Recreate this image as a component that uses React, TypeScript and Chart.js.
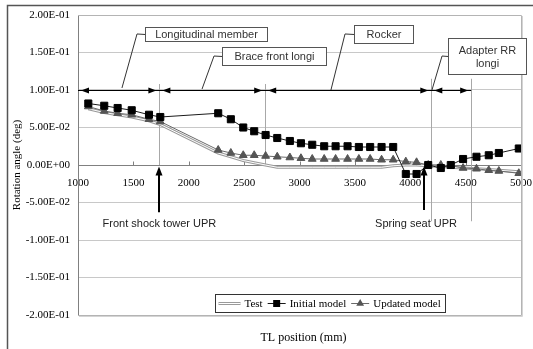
import React, { useEffect, useRef } from 'react';
import { Chart, registerables } from 'chart.js';

Chart.register(...registerables);

// ---------- data ----------
const positions = [1093, 1237, 1358, 1485, 1641, 1743, 2266, 2380, 2492, 2591, 2694, 2799, 2913, 3013, 3115, 3223, 3326, 3434, 3536, 3638, 3741, 3846, 3960, 4057, 4162, 4276, 4366, 4477, 4598, 4709, 4800, 4980];
const testValues = [0.075, 0.070, 0.067, 0.064, 0.059, 0.054, 0.016, 0.011, 0.006, 0.003, 0.000, -0.003, -0.003, -0.003, -0.003, -0.003, -0.003, -0.003, -0.003, -0.003, -0.003, -0.001, 0.000, 0.000, -0.001, -0.002, -0.003, -0.004, -0.005, -0.006, -0.007, -0.009];
const initialValues = [0.082, 0.079, 0.076, 0.073, 0.067, 0.064, 0.069, 0.061, 0.050, 0.045, 0.040, 0.036, 0.032, 0.029, 0.027, 0.025, 0.025, 0.025, 0.024, 0.024, 0.024, 0.024, -0.012, -0.012, 0.000, -0.004, 0.000, 0.008, 0.011, 0.013, 0.016, 0.022];
const updatedValues = [0.078, 0.072, 0.069, 0.067, 0.061, 0.058, 0.020, 0.016, 0.013, 0.013, 0.012, 0.011, 0.010, 0.009, 0.008, 0.008, 0.008, 0.008, 0.008, 0.008, 0.007, 0.007, 0.0045, 0.0036, 0.000, 0.000, -0.001, -0.004, -0.005, -0.007, -0.008, -0.011];
const seriesLabels = ['Test', 'Initial model', 'Updated model'];
const xTicks = [1000, 1500, 2000, 2500, 3000, 3500, 4000, 4500, 5000];
const yTicks = [-0.2, -0.15, -0.1, -0.05, 0, 0.05, 0.1, 0.15, 0.2];
const xTitle = 'TL position (mm)';
const yTitle = 'Rotation angle (deg)';

// region markers (TL position) along the 0.1 line
const regionBounds = [1000, 1735, 2690, 4190, 4550];
const regionLineValue = 0.1;
const regionLineTops = [0.108, 0.108, 0.115, 0.115];
const regionLineBottoms = [0, 0, -0.075, -0.075];

// callouts (in data units)
const callouts = [
  { lines: ['Longitudinal member'], box: [1605, 0.184, 2706, 0.1653], leader: [[1533, 0.1747], [1397, 0.1027]] },
  { lines: ['Brace front longi'], box: [2300, 0.1573, 3239, 0.1333], leader: [[2228, 0.1453], [2120, 0.1013]] },
  { lines: ['Rocker'], box: [3492, 0.1867, 4025, 0.1627], leader: [[3411, 0.1747], [3284, 0.1]] },
  { lines: ['Adapter RR', 'longi'], box: [4341, 0.1693, 5045, 0.1213], leader: [[4287, 0.1453], [4196, 0.1]] },
];

const upArrows = [
  { x: 1735, from: -0.063, to: -0.002, label: 'Front shock tower UPR', labelX: 1735, labelY: -0.0787 },
  { x: 4124, from: -0.06, to: -0.002, label: 'Spring seat UPR', labelX: 4052, labelY: -0.0787 },
];

const SERIF = "'Liberation Serif', 'DejaVu Serif', serif";
const SANS = "'Liberation Sans', Arial, sans-serif";

function fmtE(v: number): string {
  if (Math.abs(v) < 1e-12) return '0.00E+00';
  const sign = v < 0 ? '-' : '';
  const a = Math.abs(v);
  let e = Math.floor(Math.log10(a) + 1e-9);
  let m = a / Math.pow(10, e);
  if (m >= 9.995) { m /= 10; e += 1; }
  const es = (e < 0 ? '-' : '+') + String(Math.abs(e)).padStart(2, '0');
  return sign + m.toFixed(2) + 'E' + es;
}

const annotations = {
  id: 'annotations',
  beforeDatasetsDraw(chart: any) {
    const { ctx, chartArea } = chart;
    const X = (v: number) => chart.scales.x.getPixelForValue(v);
    const Y = (v: number) => chart.scales.y.getPixelForValue(v);
    ctx.save();
    // tick marks (inside, above zero line)
    ctx.strokeStyle = '#808080';
    ctx.lineWidth = 1;
    const y0 = Math.round(Y(0)) + 0.5;
    xTicks.forEach((t) => {
      const px = Math.round(X(t)) + 0.5;
      ctx.beginPath();
      ctx.moveTo(px, y0);
      ctx.lineTo(px, y0 - 4);
      ctx.stroke();
    });
    // vertical region lines
    ctx.strokeStyle = '#a8a8a8';
    for (let i = 1; i < regionBounds.length; i++) {
      const px = Math.round(X(regionBounds[i])) + 0.5;
      ctx.beginPath();
      ctx.moveTo(px, Y(regionLineTops[i - 1]));
      ctx.lineTo(px, Y(regionLineBottoms[i - 1]));
      ctx.stroke();
    }
    // horizontal arrow line
    const ly = Math.round(Y(regionLineValue)) + 0.5;
    ctx.strokeStyle = '#000';
    ctx.beginPath();
    ctx.moveTo(chartArea.left, ly);
    ctx.lineTo(X(regionBounds[regionBounds.length - 1]), ly);
    ctx.stroke();
    ctx.fillStyle = '#000';
    const head = (tip: number, dir: number) => {
      ctx.beginPath();
      ctx.moveTo(tip, ly);
      ctx.lineTo(tip - dir * 8, ly - 3);
      ctx.lineTo(tip - dir * 8, ly + 3);
      ctx.closePath();
      ctx.fill();
    };
    for (let i = 0; i < regionBounds.length - 1; i++) {
      const a = X(regionBounds[i]);
      const b = X(regionBounds[i + 1]);
      head(a + 3, -1);
      head(b - 3, 1);
    }
    ctx.restore();
  },
  afterDraw(chart: any) {
    const { ctx, chartArea } = chart;
    const X = (v: number) => chart.scales.x.getPixelForValue(v);
    const Y = (v: number) => chart.scales.y.getPixelForValue(v);
    ctx.save();
    // plot border
    ctx.lineWidth = 1;
    ctx.strokeStyle = '#b4b4b4';
    ctx.beginPath();
    ctx.moveTo(chartArea.left, chartArea.top + 0.5);
    ctx.lineTo(chartArea.right + 0.5, chartArea.top + 0.5);
    ctx.lineTo(chartArea.right + 0.5, chartArea.bottom + 0.5);
    ctx.lineTo(chartArea.left, chartArea.bottom + 0.5);
    ctx.stroke();
    ctx.strokeStyle = '#d4d4d4';
    ctx.beginPath();
    ctx.moveTo(chartArea.right + 1.5, chartArea.top + 1);
    ctx.lineTo(chartArea.right + 1.5, chartArea.bottom + 1.5);
    ctx.lineTo(chartArea.left + 1, chartArea.bottom + 1.5);
    ctx.stroke();

    // outer frame (top and left)
    ctx.strokeStyle = '#555';
    ctx.lineWidth = 1.5;
    ctx.beginPath();
    ctx.moveTo(chart.width, 5.5);
    ctx.lineTo(7.5, 5.5);
    ctx.lineTo(7.5, chart.height);
    ctx.stroke();

    // callouts
    ctx.lineWidth = 1;
    callouts.forEach((c) => {
      const x1 = Math.round(X(c.box[0])) + 0.5;
      const y1 = Math.round(Y(c.box[1])) + 0.5;
      const x2 = Math.round(X(c.box[2])) + 0.5;
      const y2 = Math.round(Y(c.box[3])) + 0.5;
      const midY = (y1 + y2) / 2;
      ctx.strokeStyle = '#333';
      ctx.beginPath();
      ctx.moveTo(x1, midY);
      ctx.lineTo(X(c.leader[0][0]), Y(c.leader[0][1]));
      ctx.lineTo(X(c.leader[1][0]), Y(c.leader[1][1]));
      ctx.stroke();
      ctx.fillStyle = '#fff';
      ctx.fillRect(x1, y1, x2 - x1, y2 - y1);
      ctx.strokeStyle = '#555';
      ctx.strokeRect(x1, y1, x2 - x1, y2 - y1);
      ctx.fillStyle = '#333';
      ctx.font = `11px ${SANS}`;
      ctx.textAlign = 'center';
      ctx.textBaseline = 'middle';
      const n = c.lines.length;
      c.lines.forEach((t, i) => {
        ctx.fillText(t, (x1 + x2) / 2, midY + (i - (n - 1) / 2) * 13 + 0.5);
      });
    });

    // up arrows and labels
    upArrows.forEach((a) => {
      const px = Math.round(X(a.x));
      const tip = Y(a.to);
      ctx.strokeStyle = '#000';
      ctx.lineWidth = 2;
      ctx.beginPath();
      ctx.moveTo(px, Y(a.from));
      ctx.lineTo(px, tip + 6);
      ctx.stroke();
      ctx.fillStyle = '#000';
      ctx.beginPath();
      ctx.moveTo(px, tip);
      ctx.lineTo(px - 3.5, tip + 9);
      ctx.lineTo(px + 3.5, tip + 9);
      ctx.closePath();
      ctx.fill();
      ctx.fillStyle = '#222';
      ctx.font = `11px ${SANS}`;
      ctx.textAlign = 'center';
      ctx.textBaseline = 'middle';
      ctx.fillText(a.label, X(a.labelX), Y(a.labelY));
    });

    // axis titles
    ctx.fillStyle = '#000';
    ctx.font = `12px ${SERIF}`;
    ctx.textAlign = 'center';
    ctx.textBaseline = 'middle';
    ctx.fillText(xTitle, (chartArea.left + chartArea.right) / 2 + 4, 338);
    ctx.save();
    ctx.translate(17, (chartArea.top + chartArea.bottom) / 2);
    ctx.rotate(-Math.PI / 2);
    ctx.font = `11px ${SERIF}`;
    ctx.fillText(yTitle, 0, 0);
    ctx.restore();

    // legend
    ctx.font = `11px ${SERIF}`;
    const lx = 215.5, ly = 294.5, lh = 18;
    const cy = ly + lh / 2;
    const widths = seriesLabels.map((t) => ctx.measureText(t).width);
    const sampleW = [22, 18, 18];
    let total = 3;
    widths.forEach((w, i) => { total += sampleW[i] + 4 + w + 5; });
    const lw = Math.round(total);
    ctx.fillStyle = '#fff';
    ctx.fillRect(lx, ly, lw, lh);
    ctx.strokeStyle = '#333';
    ctx.lineWidth = 1;
    ctx.strokeRect(lx, ly, lw, lh);
    let cx = lx + 3;
    seriesLabels.forEach((t, i) => {
      const s0 = cx, s1 = cx + sampleW[i];
      if (i === 0) {
        ctx.strokeStyle = '#9a9a9a'; ctx.lineWidth = 3;
        ctx.beginPath(); ctx.moveTo(s0, cy); ctx.lineTo(s1, cy); ctx.stroke();
        ctx.strokeStyle = '#fff'; ctx.lineWidth = 1;
        ctx.beginPath(); ctx.moveTo(s0, cy); ctx.lineTo(s1, cy); ctx.stroke();
      } else if (i === 1) {
        ctx.strokeStyle = '#1a1a1a'; ctx.lineWidth = 1;
        ctx.beginPath(); ctx.moveTo(s0, cy); ctx.lineTo(s1, cy); ctx.stroke();
        ctx.fillStyle = '#000';
        const m = (s0 + s1) / 2;
        ctx.fillRect(m - 3.5, cy - 3.5, 7, 7);
      } else {
        ctx.strokeStyle = '#6a6a6a'; ctx.lineWidth = 1;
        ctx.beginPath(); ctx.moveTo(s0, cy); ctx.lineTo(s1, cy); ctx.stroke();
        ctx.fillStyle = '#555';
        const m = (s0 + s1) / 2;
        const r = 4.5;
        ctx.beginPath();
        ctx.moveTo(m, cy - r);
        ctx.lineTo(m + r * 0.866, cy + r / 2);
        ctx.lineTo(m - r * 0.866, cy + r / 2);
        ctx.closePath();
        ctx.fill();
      }
      cx = s1 + 4;
      ctx.fillStyle = '#000';
      ctx.textAlign = 'left';
      ctx.textBaseline = 'middle';
      ctx.fillText(t, cx, cy + 0.5);
      cx += widths[i] + 5;
    });
    ctx.restore();
  },
};

export default function App() {
  const ref = useRef<HTMLCanvasElement | null>(null);
  useEffect(() => {
    document.body.style.margin = '0';
    const canvas = ref.current;
    if (!canvas) return;
    const pts = (vals: number[]) => positions.map((x, i) => ({ x, y: vals[i] }));
    const chart = new Chart(canvas, {
      type: 'scatter',
      data: {
        datasets: [
          { label: seriesLabels[1], data: pts(initialValues), showLine: true, borderColor: '#1a1a1a', borderWidth: 1, pointStyle: 'rect', pointRadius: 5, pointBackgroundColor: '#000', pointBorderColor: '#000', pointBorderWidth: 1, order: 1 },
          { label: seriesLabels[2], data: pts(updatedValues), showLine: true, borderColor: '#6a6a6a', borderWidth: 1, pointStyle: 'triangle', pointRadius: 4.5, pointBackgroundColor: '#555', pointBorderColor: '#555', pointBorderWidth: 1, order: 2 },
          { label: seriesLabels[0] + ' inner', data: pts(testValues), showLine: true, borderColor: '#ffffff', borderWidth: 1, pointRadius: 0, order: 3 },
          { label: seriesLabels[0], data: pts(testValues), showLine: true, borderColor: '#9a9a9a', borderWidth: 3, pointRadius: 0, order: 4 },
        ] as any,
      },
      options: {
        animation: false,
        responsive: false,
        devicePixelRatio: 1,
        layout: { padding: { left: 0, top: 15, right: 12, bottom: 34 } },
        plugins: { legend: { display: false }, tooltip: { enabled: false } },
        scales: {
          x: {
            type: 'linear',
            position: { y: 0 } as any,
            min: 1000,
            max: 5000,
            afterBuildTicks: (s: any) => { s.ticks = xTicks.map((v) => ({ value: v })); },
            afterFit: (s: any) => { s.paddingLeft = 0; s.paddingRight = 0; },
            ticks: { font: { family: SERIF, size: 11 }, color: '#000', padding: 12, maxRotation: 0, autoSkip: false, callback: (v: any) => String(v) },
            grid: { display: false, drawTicks: false },
            border: { display: true, color: '#808080', width: 1 },
          },
          y: {
            type: 'linear',
            position: 'left',
            min: -0.2,
            max: 0.2,
            afterBuildTicks: (s: any) => { s.ticks = yTicks.map((v) => ({ value: v })); },
            afterFit: (s: any) => { s.width = 78; s.paddingTop = 0; s.paddingBottom = 0; },
            ticks: { font: { family: SERIF, size: 11 }, color: '#000', padding: 8, callback: (v: any) => fmtE(Number(v)) },
            grid: { color: (c: any) => (c.tick && Math.abs(c.tick.value) < 1e-9 ? '#808080' : '#c8c8c8'), drawTicks: false, lineWidth: 1 },
            border: { display: true, color: '#808080', width: 1 },
          },
        },
      } as any,
      plugins: [annotations],
    });
    return () => chart.destroy();
  }, []);
  return (
    <div style={{ width: 533, height: 349, position: 'relative', background: '#fff' }}>
      <canvas ref={ref} width={533} height={349} style={{ display: 'block', width: 533, height: 349 }} />
    </div>
  );
}
